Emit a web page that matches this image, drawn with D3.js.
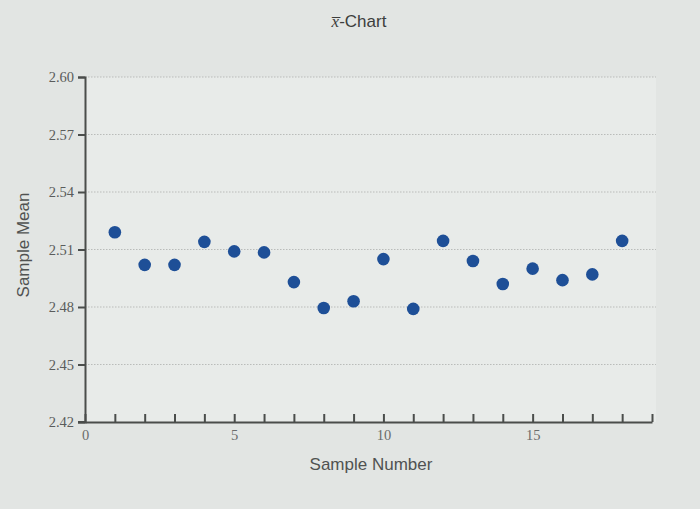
<!DOCTYPE html>
<html><head><meta charset="utf-8">
<script src="https://cdn.jsdelivr.net/npm/d3@7"></script>
<style>
html,body{margin:0;padding:0;background:#e2e5e3;}
svg{display:block;}
</style></head>
<body><svg id="c" width="700" height="509"></svg>
<script>
const sampleNumbers = [1,2,3,4,5,6,7,8,9,10,11,12,13,14,15,16,17,18];
const sampleMeans = [2.519,2.502,2.502,2.514,2.509,2.5085,2.493,2.4795,2.483,2.505,2.479,2.5145,2.504,2.492,2.500,2.494,2.497,2.5145];
const yTicks = [2.42,2.45,2.48,2.51,2.54,2.57,2.60];
const xTicks = d3.range(0,20);
const xLabelTicks = [0,5,10,15];
const titleText = "-Chart";
const xTitle = "Sample Number";
const yTitle = "Sample Mean";

const svg = d3.select("#c");
const x = d3.scaleLinear().domain([0,19]).range([85, 652]);
const y = d3.scaleLinear().domain([2.42,2.60]).range([422, 77]);

// plot background
svg.append("rect").attr("x",x(0)).attr("y",y(2.60)).attr("width",656-x(0)).attr("height",y(2.42)-y(2.60)).attr("fill","#e8ebe9");

// gridlines
svg.append("g").selectAll("line").data(yTicks.slice(1)).join("line")
  .attr("x1",x(0)).attr("x2",656).attr("y1",d=>y(d)).attr("y2",d=>y(d))
  .attr("stroke","#b9bcba").attr("stroke-width",1.2).attr("stroke-dasharray","1.5,1.5");

// y axis
const ya = svg.append("g").attr("transform",`translate(${x(0)},0)`)
  .call(d3.axisLeft(y).tickValues(yTicks).tickFormat(d3.format(".2f")).tickSize(7).tickPadding(4));
ya.select(".domain").attr("stroke","#4a4d4b").attr("stroke-width",2);
ya.selectAll(".tick line").attr("stroke","#4a4d4b").attr("stroke-width",2);
ya.selectAll("text").attr("font-family","Liberation Serif").attr("font-size",14.5).attr("fill","#5a5c5b");

// x axis
const xa = svg.append("g").attr("transform",`translate(0,${y(2.42)})`)
  .call(d3.axisBottom(x).tickValues(xTicks).tickFormat(d=>xLabelTicks.includes(d)?d:"").tickSizeInner(-8).tickSizeOuter(0).tickPadding(8));
xa.select(".domain").attr("stroke","#4a4d4b").attr("stroke-width",2);
xa.selectAll(".tick line").attr("stroke","#4a4d4b").attr("stroke-width",2);
xa.selectAll("text").attr("font-family","Liberation Serif").attr("font-size",14.5).attr("fill","#6a6c6b");
svg.append("line").attr("x1",x(0)-7).attr("x2",x(0)).attr("y1",y(2.42)).attr("y2",y(2.42)).attr("stroke","#4a4d4b").attr("stroke-width",2);

// points
svg.append("g").selectAll("circle").data(sampleNumbers).join("circle")
  .attr("cx",(d)=>x(d)).attr("cy",(d,i)=>y(sampleMeans[i])).attr("r",6.3)
  .attr("fill","#1e4f97");

// title
const t = svg.append("text").attr("x",359).attr("y",27).attr("text-anchor","middle")
  .attr("font-family","Liberation Sans").attr("font-size",17).attr("fill","#3c3e3d");
t.append("tspan").attr("font-family","Liberation Serif").attr("font-style","italic").text("x\u0305");
t.append("tspan").text(titleText);

svg.append("text").attr("x",371).attr("y",470).attr("text-anchor","middle")
  .attr("font-family","Liberation Sans").attr("font-size",17).attr("fill","#505251").text(xTitle);
svg.append("text").attr("transform","translate(29,245) rotate(-90)").attr("text-anchor","middle")
  .attr("font-family","Liberation Sans").attr("font-size",17).attr("fill","#505251").text(yTitle);
</script></body></html>
